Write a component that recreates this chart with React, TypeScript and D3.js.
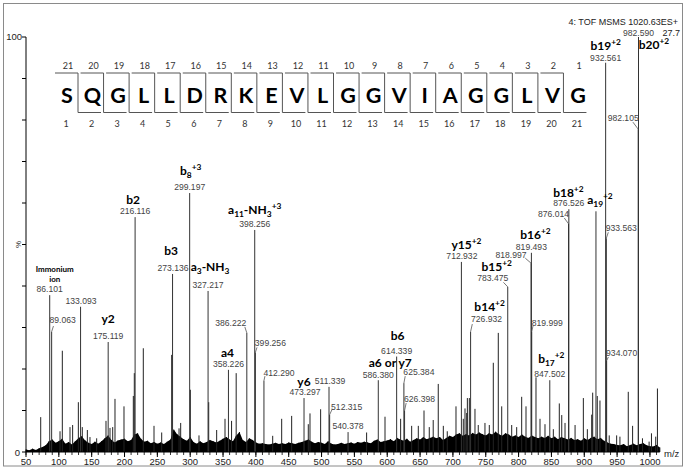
import React, { useEffect, useRef } from "react";
import * as d3 from "d3";

// ---------- DATA ----------
const sequence = ["S","Q","G","L","L","D","R","K","E","V","L","G","G","V","I","A","G","G","L","V","G"];

// labelled fragment peaks [m/z, relative intensity %]
const labeledPeaks: [number, number][] = [
  [86.101, 37.8], [89.063, 29], [133.093, 35], [175.119, 26.5], [216.116, 56.6],
  [273.136, 42.9], [299.197, 62.4], [327.217, 38.8], [358.226, 19.8], [386.222, 28.7],
  [398.256, 53.5], [399.256, 24], [412.29, 17.2], [473.297, 13], [511.339, 15.7],
  [512.315, 9], [540.378, 4.8], [586.38, 17.3], [614.339, 23], [625.384, 16.6],
  [626.398, 10], [712.932, 45.8], [726.932, 29], [783.475, 39.8], [818.997, 45.5],
  [819.493, 48], [819.999, 29], [847.502, 17.3], [876.014, 55], [876.526, 58.5],
  [917.8, 58], [932.561, 93.8], [933.563, 51.5], [934.07, 22], [982.105, 77.8], [982.59, 100],
];

// other visible peaks [m/z, %]
const minorPeaks: [number, number][] = [
  [72.4,8.4],[101.8,5],[105.3,24.4],[117,6],[121,6.5],[129.7,12],[135.7,6],[143.4,5.3],[147.4,3.6],
  [157.6,3.3],[171.8,7.5],[177.9,5.8],[182,6],[185.5,12.8],[199.2,11],[213.4,13.5],[214.9,19],
  [228.6,25],[244.9,6.3],[256.6,4.7],[271.8,23.4],[283,5.7],[285.5,7],[300.2,15],[313.4,4],
  [328.2,12],[340.3,5.3],[353,8],[363,7.5],[370,19],[425.6,3.9],[439.3,8],[454.5,8.7],
  [479.8,6.7],[482.4,9.3],[498.6,10.3],[568.6,4.7],[596.6,8.5],[620.4,8],[637.2,6.3],
  [647.3,6.3],[656,10],[664,6],[670,7.7],[677.7,16.4],[685.4,6.3],[691.4,5],[704.7,11],
  [715.8,8],[718.4,10.5],[721,9.4],[722,13],[725,13],[733.6,10.4],[738.6,6.5],[748.8,7],
  [755.4,6.5],[761.5,21.5],[769.1,28.7],[774.3,11],[789.5,6.5],[797.1,6],[804.7,13.3],
  [811.3,11],[826.5,18],[832.6,8],[840.2,6.7],[852.9,5.5],[862,11.7],[865.7,8.9],[870.7,7],
  [886,6.5],[898.6,13],[904.7,5.5],[911.3,9],[912.8,14.3],[919.8,13.5],[923.9,12.4],[938,4],
  [949.3,4],[954.3,3.7],[967,14.5],[973.6,6.3],[988.6,3.3],[998.7,2.5],[1002.3,4.5],
  [1008.8,3.7],[1011.4,15.3],
];

// chemical noise floor, sampled every 5 m/z from 50
const noiseStart = 50;
const noiseStep = 5;
const noiseLevels: number[] = [
  0.6,0.4,0.8,0.5,0.9,1.2,1.6,2.6,3.0,2.2,
  2.6,3.2,2.0,2.4,1.8,2.6,3.4,3.8,2.8,2.2,
  1.9,2.5,2.0,2.6,3.3,4.0,2.9,2.3,2.8,3.0,
  3.2,2.6,2.9,4.2,4.5,3.2,2.5,2.7,2.1,2.4,
  2.0,2.3,1.9,2.5,3.0,5.4,4.3,3.7,3.1,2.7,
  3.6,2.4,2.0,2.6,2.1,2.4,2.9,2.6,2.3,2.7,
  3.2,3.6,3.0,2.6,3.9,4.8,2.9,2.4,3.3,2.9,
  2.3,2.0,2.1,1.9,1.8,2.0,2.2,1.9,2.1,1.9,
  2.3,2.1,1.9,2.2,2.4,2.7,3.0,2.5,2.1,2.4,
  2.2,1.9,2.6,2.0,1.8,1.9,2.2,1.9,2.1,2.3,
  2.0,2.4,2.2,2.5,2.3,2.1,2.7,3.0,2.4,2.6,
  2.8,3.1,2.6,3.4,3.0,2.7,3.2,2.5,2.9,3.3,
  3.0,3.6,3.1,3.4,3.7,3.3,3.6,2.9,3.4,3.9,
  3.6,4.2,4.5,3.9,4.3,4.0,4.6,4.2,4.7,4.3,
  4.0,4.5,4.2,4.9,4.3,3.9,4.5,4.2,3.7,4.0,
  3.6,4.2,3.7,3.4,4.0,3.6,3.3,3.7,3.4,3.9,
  3.3,3.7,3.1,3.6,3.3,3.0,3.4,2.9,3.1,2.7,
  3.3,2.9,3.4,3.7,3.1,3.4,2.7,2.3,2.0,1.9,
  1.7,1.6,1.9,1.4,1.7,2.0,1.6,1.9,2.1,1.6,
  1.4,1.3,1.7,1.1,
];

const xTickValues = [50,100,150,200,250,300,350,400,450,500,550,600,650,700,750,800,850,900,950,1000];
const yTickValues = [0,10,20,30,40,50,60,70,80,90,100];

type Seg = [string, "n" | "sub" | "sup"];
// annotations: peak m/z, ion label, number label (offsets relative to peak apex)
const annotations: {
  mz: number; ion?: Seg[]; ix?: number; iy?: number; num?: string; nx?: number; ny?: number; leader?: [number, number];
}[] = [
  { mz: 86.101, num: "86.101", nx: 0, ny: -3 },
  { mz: 89.063, num: "89.063", nx: 11, ny: -8.6, leader: [1.8, -5.6] },
  { mz: 133.093, num: "133.093", nx: 0.5, ny: -3 },
  { mz: 175.119, num: "175.119", nx: 0, ny: -3, ion: [["y2","n"]], ix: 0, iy: -19 },
  { mz: 216.116, num: "216.116", nx: 0, ny: -3, ion: [["b2","n"]], ix: -2, iy: -13 },
  { mz: 273.136, num: "273.136", nx: 0.5, ny: -3, ion: [["b3","n"]], ix: -1.5, iy: -19 },
  { mz: 299.197, num: "299.197", nx: 0, ny: -3, ion: [["b","n"],["8","sub"],["+3","sup"]], ix: 1, iy: -18 },
  { mz: 327.217, num: "327.217", nx: 0, ny: -3, ion: [["a","n"],["3","sub"],["-NH","n"],["3","sub"]], ix: 2, iy: -20 },
  { mz: 358.226, num: "358.226", nx: 0, ny: -3, ion: [["a4","n"]], ix: -1, iy: -13 },
  { mz: 386.222, num: "386.222", nx: -16, ny: -7, leader: [-2, -6] },
  { mz: 398.256, num: "398.256", nx: 0, ny: -2.5, ion: [["a","n"],["11","sub"],["-NH","n"],["3","sub"],["+3","sup"]], ix: 0, iy: -16 },
  { mz: 399.256, num: "399.256", nx: 15, ny: -6, leader: [1.6, -5] },
  { mz: 412.29, num: "412.290", nx: 15, ny: -5, leader: [1, -4.5] },
  { mz: 473.297, num: "473.297", nx: 1, ny: -3, ion: [["y6","n"]], ix: 0, iy: -12.5 },
  { mz: 511.339, num: "511.339", nx: 1, ny: -3 },
  { mz: 512.315, num: "512.315", nx: 17, ny: -4.6, leader: [2.6, -5.6] },
  { mz: 540.378, num: "540.378", nx: 0, ny: -3 },
  { mz: 586.38, num: "586.380", nx: 0, ny: -2.5, ion: [["a6 or y7","n"]], ix: 12, iy: -13.5 },
  { mz: 614.339, num: "614.339", nx: 0, ny: -3, ion: [["b6","n"]], ix: 1, iy: -17 },
  { mz: 625.384, num: "625.384", nx: 15, ny: -8, leader: [1.3, -7] },
  { mz: 626.398, num: "626.398", nx: 15, ny: -8.5, leader: [1.6, -7.5] },
  { mz: 712.932, num: "712.932", nx: 0.5, ny: -3, ion: [["y15","n"],["+2","sup"]], ix: 5, iy: -12.5 },
  { mz: 726.932, num: "726.932", nx: 16, ny: -9.6, leader: [1.7, -7.6], ion: [["b14","n"],["+2","sup"]], ix: 19, iy: -21 },
  { mz: 783.475, num: "783.475", nx: -15, ny: -5.5, leader: [-4.3, -4.5], ion: [["b15","n"],["+2","sup"]], ix: -11, iy: -15.5 },
  { mz: 818.997, num: "818.997", nx: -20, ny: -5.5, leader: [-5.8, -5] },
  { mz: 819.493, num: "819.493", nx: 0, ny: -3, ion: [["b16","n"],["+2","sup"]], ix: 4, iy: -13.5 },
  { mz: 819.999, num: "819.999", nx: 15.5, ny: -5.6, leader: [1.5, -6.6] },
  { mz: 847.502, num: "847.502", nx: 0, ny: -3, ion: [["b","n"],["17","sub"],["+2","sup"]], ix: 1.5, iy: -17 },
  { mz: 876.014, num: "876.014", nx: -15, ny: -6.7, leader: [-4.2, -5.7] },
  { mz: 876.526, num: "876.526", nx: 0, ny: -3, ion: [["b18","n"],["+2","sup"]], ix: -0.5, iy: -12.5 },
  { mz: 917.8, ion: [["a","n"],["19","sub"],["+2","sup"]], ix: 4, iy: -7 },
  { mz: 932.561, num: "932.561", nx: 0, ny: -2, ion: [["b19","n"],["+2","sup"]], ix: 0, iy: -12.5 },
  { mz: 933.563, num: "933.563", nx: 15, ny: -7, leader: [2, -6] },
  { mz: 934.07, num: "934.070", nx: 15, ny: -4.7, leader: [1.7, -3.7] },
  { mz: 982.105, num: "982.105", nx: -15, ny: -8, leader: [-5.3, -7] },
  { mz: 982.59, num: "982.590", nx: 0, ny: -1.5, ion: [["b20","n"],["+2","sup"]], ix: 15.5, iy: 12 },
];

// ---------- COMPONENT ----------
const W = 686, H = 471;
const numFont = "'Liberation Sans', Arial, sans-serif";
const ionFont = "Lato, 'Open Sans', sans-serif";

function RichText({ segs, x, y, size }: { segs: Seg[]; x: number; y: number; size: number }) {
  let cur = 0;
  const spans = segs.map((s, i) => {
    const target = s[1] === "sub" ? 3 : s[1] === "sup" ? -5 : 0;
    const dy = target - cur;
    cur = target;
    return (
      <tspan key={i} dy={dy} fontSize={s[1] === "n" ? size : size * 0.7}>{s[0]}</tspan>
    );
  });
  return (
    <text x={x} y={y} textAnchor="middle" fontFamily={ionFont} fontWeight="bold" fontSize={size} fill="#000">{spans}</text>
  );
}

export default function App() {
  const axisRef = useRef<SVGGElement>(null);
  const x = d3.scaleLinear().domain([50, 1015]).range([26, 659.8]);
  const y = d3.scaleLinear().domain([0, 100]).range([452, 37]);

  useEffect(() => {
    if (!axisRef.current) return;
    const g = d3.select(axisRef.current);
    g.selectAll("*").remove();
    const minor = d3.range(50, 1011, 10);
    const xa = g.append("g").attr("transform", `translate(0,${y(0)})`);
    xa.append("line").attr("x1", x(50)).attr("x2", x(1015)).attr("stroke", "#000");
    xa.selectAll("line.mt").data(minor).join("line").attr("class", "mt")
      .attr("x1", d => x(d)).attr("x2", d => x(d)).attr("y1", 0).attr("y2", 3).attr("stroke", "#000").attr("stroke-width", 0.8);
    xa.selectAll("line.Mt").data(xTickValues).join("line").attr("class", "Mt")
      .attr("x1", d => x(d)).attr("x2", d => x(d)).attr("y1", 0).attr("y2", 5).attr("stroke", "#000");
    xa.selectAll("text").data(xTickValues).join("text")
      .attr("x", d => x(d)).attr("y", 13).attr("text-anchor", "middle")
      .attr("font-family", numFont).attr("font-size", 9.5).attr("fill", "#222").text(d => String(d));
    const ya = g.append("g").attr("transform", `translate(${x(50)},0)`);
    ya.append("line").attr("y1", y(0)).attr("y2", y(100)).attr("stroke", "#000");
    ya.selectAll("line.yt").data(yTickValues).join("line").attr("class", "yt")
      .attr("x1", -4).attr("x2", 0).attr("y1", d => y(d)).attr("y2", d => y(d)).attr("stroke", "#000");
  }, []);

  const noiseData = noiseLevels.map((v, i) => [noiseStart + i * noiseStep, v] as [number, number]);
  const noiseArea = d3.area<[number, number]>().x(d => x(d[0])).y0(y(0)).y1(d => y(d[1]))(noiseData) || "";

  const letterX0 = 67, letterStep = 25.55;
  const topY = 73, botY = 112.5;

  return (
    <svg width={W} height={H} style={{ position: "absolute", left: 0, top: 0, background: "#fff" }}>
      <rect x={3.5} y={3.5} width={679} height={462.5} fill="#fff" stroke="#8a8a8a" strokeWidth={1} />

      {/* peptide sequence */}
      <g>
        {sequence.map((aa, i) => {
          const cx = letterX0 + i * letterStep;
          return (
            <g key={i}>
              <text x={cx} y={102.5} textAnchor="middle" fontFamily={ionFont} fontWeight="bold" fontSize={21.5}>{aa}</text>
              <text x={cx + 1} y={68.5} textAnchor="middle" fontFamily={ionFont} fontSize={9} fill="#333">{sequence.length - i}</text>
              <text x={cx - 1} y={126.5} textAnchor="middle" fontFamily={ionFont} fontSize={9} fill="#333">{i + 1}</text>
            </g>
          );
        })}
        {sequence.slice(0, -1).map((_, i) => {
          const sx = letterX0 + i * letterStep + 11;
          return (
            <path key={"s" + i} d={`M${sx - 23},${topY}H${sx}V${botY}H${sx + 23}`} fill="none" stroke="#555" strokeWidth={1} />
          );
        })}
      </g>

      {/* noise floor */}
      <path d={noiseArea} fill="#000" />
      {noiseData.map((d, i) => (
        <line key={"n" + i} x1={x(d[0])} x2={x(d[0])} y1={y(0)} y2={y(d[1])} stroke="#000" strokeWidth={1} />
      ))}

      {/* peaks */}
      {minorPeaks.map((d, i) => (
        <line key={"m" + i} x1={x(d[0])} x2={x(d[0])} y1={y(0)} y2={y(d[1])} stroke="#222" strokeWidth={1} />
      ))}
      {labeledPeaks.map((d, i) => (
        <line key={"p" + i} x1={x(d[0])} x2={x(d[0])} y1={y(0)} y2={y(d[1])} stroke="#333" strokeWidth={1} />
      ))}

      <g ref={axisRef} />

      {/* y axis labels */}
      <text x={22} y={40} textAnchor="end" fontFamily={numFont} fontSize={9.5} fill="#222">100</text>
      <text x={20} y={455.5} textAnchor="end" fontFamily={numFont} fontSize={9.5} fill="#222">0</text>
      <text transform={`translate(21,${y(50)}) rotate(-90)`} textAnchor="middle" fontFamily={numFont} fontSize={8} fill="#222">%</text>
      <text x={664} y={457} fontFamily={numFont} fontSize={9.5} fill="#222">m/z</text>

      {/* header */}
      <text x={678} y={25} textAnchor="end" fontFamily={numFont} fontSize={9} fill="#222">4: TOF MSMS 1020.63ES+</text>
      <text x={680} y={35.5} textAnchor="end" fontFamily={numFont} fontSize={9} fill="#222">27.7</text>

      {/* annotations */}
      {annotations.map((a, i) => {
        const pk = labeledPeaks.find(p => p[0] === a.mz);
        const px = x(a.mz), py = y(pk ? pk[1] : 0);
        return (
          <g key={"a" + i}>
            {a.leader && (
              <line x1={px + a.leader[0]} y1={py + a.leader[1]} x2={px} y2={py} stroke="#555" strokeWidth={0.8} />
            )}
            {a.num && (
              <text x={px + (a.nx || 0)} y={py + (a.ny || 0)} textAnchor="middle" fontFamily={numFont} fontSize={8.6} fill="#444">{a.num}</text>
            )}
            {a.ion && <RichText segs={a.ion} x={px + (a.ix || 0)} y={py + (a.iy || 0)} size={12} />}
          </g>
        );
      })}
      {/* immonium ion note */}
      <text x={x(86.101) + 5} y={y(37.8) - 23} textAnchor="middle" fontFamily={ionFont} fontWeight="bold" fontSize={8}>Immonium</text>
      <text x={x(86.101) + 5} y={y(37.8) - 13} textAnchor="middle" fontFamily={ionFont} fontWeight="bold" fontSize={8}>ion</text>
    </svg>
  );
}
